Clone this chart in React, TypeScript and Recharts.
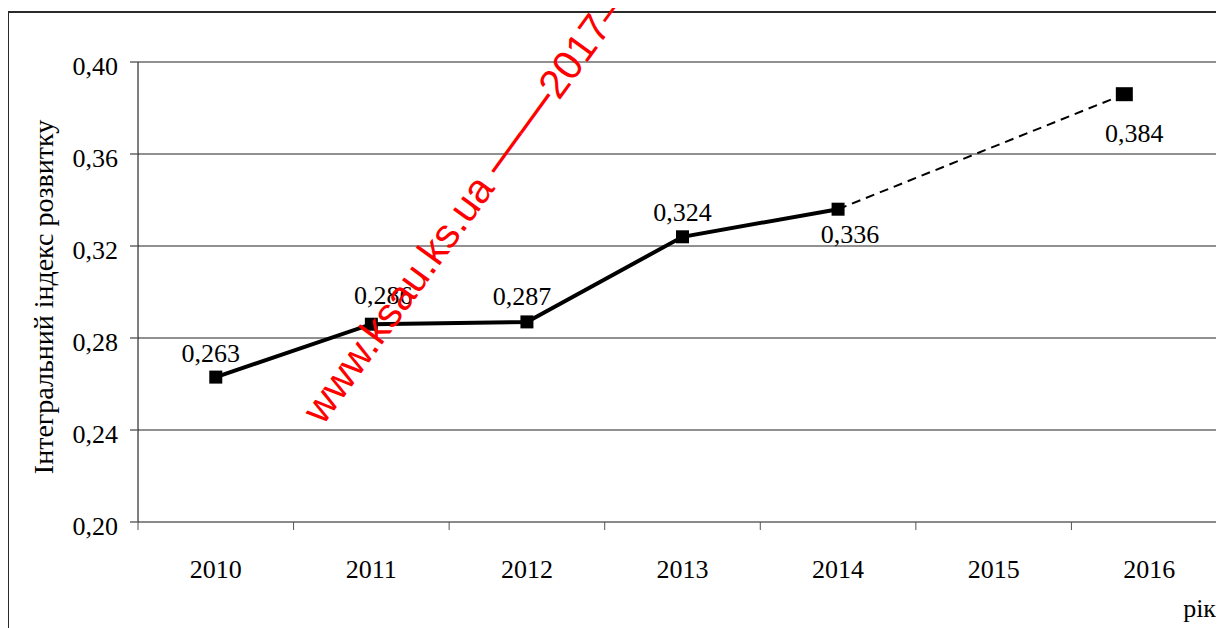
import { CartesianGrid, LabelList, Line, LineChart, XAxis, YAxis } from 'recharts';

const years = ['2010', '2011', '2012', '2013', '2014', '2015', '2016'];
// x position of each plotted point on the year axis (index of the year; the 2016 forecast marker sits a bit left of centre)
const pointX = [0, 1, 2, 3, 4, 5.84];
const actual = [0.263, 0.286, 0.287, 0.324, 0.336, null];
const forecast = [null, null, null, null, 0.336, 0.386];
const valueLabels = ['0,263', '0,286', '0,287', '0,324', '0,336', '0,384'];
const yTicks = [0.2, 0.24, 0.28, 0.32, 0.36, 0.4];
const yearTicks = [0, 1, 2, 3, 4, 5, 6];
const boundaryTicks = [-0.5, 0.5, 1.5, 2.5, 3.5, 4.5, 5.5, 6.5];

const rows = pointX.map((x, i) => ({ x, actual: actual[i], forecast: forecast[i], label: valueLabels[i] }));

// label placement relative to the point: [dx, baseline dy]
const labelOffsets = [
  [-5, -15],
  [12, -20],
  [-5, -17],
  [0, -16],
  [12, 34],
  [10, 48],
];

const serif = '"Liberation Serif", "Times New Roman", serif';
const FS = 26;

function ValueLabel(props: any) {
  const { x, y, index, show } = props;
  if (!show(index)) return null;
  const [dx, dy] = labelOffsets[index];
  return (
    <text x={x + dx} y={y + dy} textAnchor="middle" fontFamily={serif} fontSize={FS} fill="#000">
      {valueLabels[index]}
    </text>
  );
}

function SquareDot(props: any) {
  const { cx, cy, index, show, w = 13, h = 13 } = props;
  if (cx == null || cy == null || !show(index)) return null;
  return <rect key={index} x={cx - w / 2} y={cy - h / 2} width={w} height={h} fill="#000" />;
}

export default function App() {
  return (
    <div style={{ position: 'relative', width: 1216, height: 620, overflow: 'hidden', background: '#fff' }}>
      <div
        style={{
          position: 'absolute',
          left: -1,
          top: 3,
          width: 1400,
          height: 800,
          borderLeft: '2px solid #2a2a2a',
          borderTop: '2px solid #2a2a2a',
        }}
      />
      <div style={{ position: 'absolute', left: 0, top: 0 }}>
        <LineChart width={1230} height={620} data={rows} margin={{ top: 54, right: 11, bottom: 45, left: 0 }}>
          <CartesianGrid xAxisId="main" vertical={false} stroke="#222" strokeWidth={1} />
          <XAxis
            xAxisId="bounds"
            type="number"
            dataKey="x"
            domain={[-0.5, 6.5]}
            ticks={boundaryTicks}
            interval={0}
            height={1}
            tickSize={8}
            tickFormatter={() => ''}
            tickLine={{ stroke: '#555', strokeWidth: 1 }}
            axisLine={{ stroke: '#888', strokeWidth: 1.6 }}
          />
          <XAxis
            xAxisId="main"
            type="number"
            dataKey="x"
            domain={[-0.5, 6.5]}
            ticks={yearTicks}
            interval={0}
            height={60}
            tickSize={0}
            tickMargin={37}
            axisLine={false}
            tickLine={false}
            tickFormatter={(i: number) => years[i]}
            tick={{ fontFamily: serif, fontSize: FS, fill: '#000' }}
            label={{
              content: () => (
                <text x={1208} y={609} textAnchor="end" fontFamily={serif} fontSize={FS} fill="#000">
                  рік
                </text>
              ),
            }}
          />
          <YAxis
            type="number"
            domain={[0.2, 0.4]}
            ticks={yTicks}
            interval={0}
            width={130}
            tickSize={8}
            tickMargin={12}
            tickFormatter={(v: number) => v.toFixed(2).replace('.', ',')}
            tick={{ fontFamily: serif, fontSize: FS, fill: '#000', dy: 4 }}
            tickLine={{ stroke: '#666', strokeWidth: 1.5 }}
            axisLine={{ stroke: '#000', strokeWidth: 1 }}
            label={{
              content: ({ viewBox }: any) => {
                const lx = 45;
                const ly = viewBox.y + viewBox.height / 2 + 5;
                return (
                  <text
                    x={lx}
                    y={ly}
                    transform={`rotate(-90 ${lx} ${ly})`}
                    textAnchor="middle"
                    fontFamily={serif}
                    fontSize={28}
                    fill="#000"
                  >
                    Інтегральний індекс розвитку
                  </text>
                );
              },
            }}
          />
          <Line
            xAxisId="main"
            dataKey="forecast"
            stroke="#000"
            strokeWidth={2}
            strokeDasharray="9 6"
            connectNulls
            isAnimationActive={false}
            dot={(p: any) => <SquareDot {...p} key={p.index} w={17} h={14} show={(i: number) => i === 5} />}
          >
            <LabelList dataKey="label" content={(p: any) => <ValueLabel {...p} show={(i: number) => i === 5} />} />
          </Line>
          <Line
            xAxisId="main"
            dataKey="actual"
            stroke="#000"
            strokeWidth={4}
            isAnimationActive={false}
            dot={(p: any) => <SquareDot {...p} key={p.index} show={(i: number) => i <= 4} />}
          >
            <LabelList dataKey="label" content={(p: any) => <ValueLabel {...p} show={(i: number) => i <= 4} />} />
          </Line>
        </LineChart>
      </div>
      <svg width={1216} height={620} style={{ position: 'absolute', left: 0, top: 0, pointerEvents: 'none' }}>
        <text
          x={315}
          y={418}
          transform="rotate(-54 315 418)"
          fontFamily='"Liberation Sans", Arial, sans-serif'
          fontSize={41}
          fill="#ff0000"
        >
          www.ksau.ks.ua <tspan fontSize={48}>——</tspan>2017—
        </text>
      </svg>
    </div>
  );
}
